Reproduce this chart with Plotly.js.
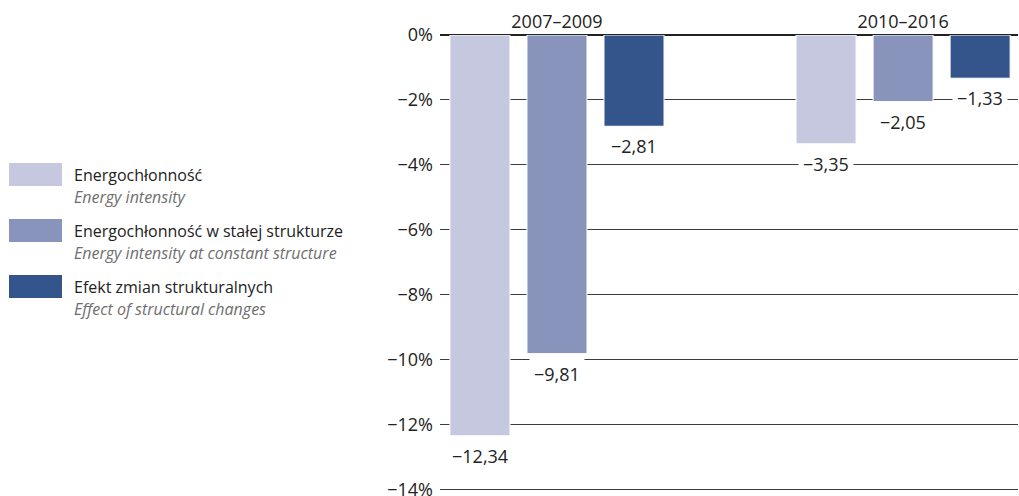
<!DOCTYPE html>
<html><head><meta charset="utf-8">
<script src="https://cdn.plot.ly/plotly-3.0.1.min.js"></script>
<style>html,body{margin:0;padding:0;background:#fff}#chart{width:1019px;height:496px}</style>
</head><body><div id="chart"></div>
<script>
// ---- data ----
const periods = ["2007–2009", "2010–2016"];
const seriesNamesPL = ["Energochłonność", "Energochłonność w stałej strukturze", "Efekt zmian strukturalnych"];
const seriesNamesEN = ["Energy intensity", "Energy intensity at constant structure", "Effect of structural changes"];
const energyIntensity = [-12.34, -3.35];
const constantStructure = [-9.81, -2.05];
const structuralEffect = [-2.81, -1.33];
const seriesColors = ["#c5c8de", "#8994bd", "#34548c"];
const yTickVals = [0, -2, -4, -6, -8, -10, -12, -14];
const yTickText = ["0%", "−2%", "−4%", "−6%", "−8%", "−10%", "−12%", "−14%"];

const seriesValues = [energyIntensity, constantStructure, structuralEffect];

// ---- layout geometry ----
const W = 1019, H = 496;
const M = {l: 440, r: 1, t: 35, b: 5};
const plotW = W - M.l - M.r, plotH = H - M.t - M.b;
const xRange = [-0.338, 1.332];
const yRange = [-14.04, 0];
const bargap = 0.3324, bargroupgap = 0.2207;
const pxPerUnit = plotW / (xRange[1] - xRange[0]);
const pitchPx = (1 - bargap) / 3 * pxPerUnit;
const px2paperX = px => (px - M.l) / plotW;
const px2paperY = py => 1 - (py - M.t) / plotH;
const FONT = "Open Sans, Lato, sans-serif";

function fmt(v) {
  return (v < 0 ? "−" : "") + Math.abs(v).toFixed(2).replace(".", ",");
}

const traces = seriesValues.map((vals, i) => ({
  type: "bar",
  x: periods,
  y: vals,
  name: seriesNamesPL[i],
  marker: {color: seriesColors[i], line: {color: "#ffffff", width: 1}},
  hoverinfo: "none",
  showlegend: false
}));

const annotations = [];
seriesValues.forEach((vals, i) => {
  vals.forEach((v, j) => {
    annotations.push({
      x: periods[j], y: v, xref: "x", yref: "y",
      xshift: (i - 1) * pitchPx,
      yanchor: "top", yshift: -3,
      text: fmt(v), showarrow: false,
      bgcolor: "#ffffff", borderpad: 4,
      font: {family: FONT, size: 18, color: "#222"}
    });
  });
});

// legend (custom)
const shapes = [];
const legendRowsY = [175, 231, 287];
seriesNamesPL.forEach((name, i) => {
  const cy = legendRowsY[i];
  shapes.push({
    type: "rect", xref: "paper", yref: "paper",
    x0: px2paperX(9), x1: px2paperX(62),
    y0: px2paperY(cy - 12), y1: px2paperY(cy + 11),
    fillcolor: seriesColors[i], line: {width: 0}
  });
  annotations.push({
    xref: "paper", yref: "paper", x: px2paperX(72), y: px2paperY(cy),
    xanchor: "left", yanchor: "middle", showarrow: false,
    text: name, font: {family: FONT, size: 16, color: "#222"}
  });
  annotations.push({
    xref: "paper", yref: "paper", x: px2paperX(72), y: px2paperY(cy + 22),
    xanchor: "left", yanchor: "middle", showarrow: false,
    text: "<i>" + seriesNamesEN[i] + "</i>", font: {family: FONT, size: 16, color: "#6e6e6e"}
  });
});

const layout = {
  width: W, height: H,
  margin: M,
  paper_bgcolor: "#fff", plot_bgcolor: "#fff",
  barmode: "group", bargap: bargap, bargroupgap: bargroupgap,
  font: {family: FONT, size: 18, color: "#222"},
  xaxis: {
    side: "top", range: xRange, showgrid: false, zeroline: false,
    showline: false, ticks: "", fixedrange: true, ticklabelstandoff: 2,
    tickfont: {family: FONT, size: 18, color: "#222"}
  },
  yaxis: {
    range: yRange, tickvals: yTickVals, ticktext: yTickText,
    showgrid: true, gridcolor: "#3c3c3c", gridwidth: 1,
    zeroline: true, zerolinecolor: "#222", zerolinewidth: 2,
    showline: false, ticks: "", fixedrange: true, ticklabelstandoff: 6,
    ticklabeloverflow: "allow",
    tickfont: {family: FONT, size: 18, color: "#222"}
  },
  shapes: shapes,
  annotations: annotations,
  showlegend: false
};

Plotly.newPlot("chart", traces, layout, {displayModeBar: false, staticPlot: true});
</script></body></html>
